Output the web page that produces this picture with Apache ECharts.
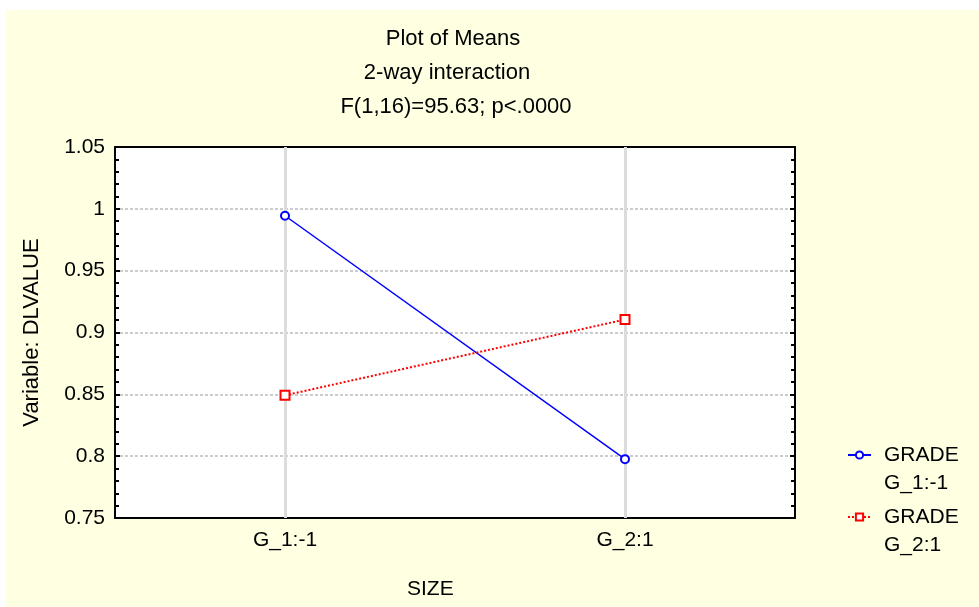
<!DOCTYPE html>
<html><head><meta charset="utf-8">
<script src="https://cdn.jsdelivr.net/npm/echarts@6/dist/echarts.min.js"></script>
<style>html,body{margin:0;padding:0;background:#fff}#c{width:979px;height:607px}</style>
</head><body><div id="c"></div>
<script>
const categories = ['G_1:-1', 'G_2:1'];
const seriesNames = ['GRADE\nG_1:-1', 'GRADE\nG_2:1'];
const grade1 = [0.9944, 0.7976];
const grade2 = [0.8492, 0.9105];
const titleLines = ['Plot of Means', '2-way interaction', 'F(1,16)=95.63; p<.0000'];
const yMin = 0.75, yMax = 1.05, yStep = 0.05;

const FONT = 'Liberation Sans, Arial, sans-serif';
const chart = echarts.init(document.getElementById('c'), null, {renderer: 'canvas'});
const fmt = v => String(parseFloat(v.toFixed(2)));
const legendText = {color: '#000', fontSize: 21, fontFamily: FONT, lineHeight: 28,
  rich: {t: {color: '#000', fontSize: 21, fontFamily: FONT, lineHeight: 28, padding: [0, 0, 0, 8]}}};
const titleCenters = [448, 442, 451];

chart.setOption({
  animation: false,
  backgroundColor: '#ffffff',
  title: titleLines.map((t, i) => ({
    text: t, left: titleCenters[i], top: 23 + i * 34, textAlign: 'center',
    textStyle: {color: '#000', fontSize: 22, fontWeight: 'normal', fontFamily: FONT}
  })),
  graphic: [
    {type: 'rect', z: -100, shape: {x: 6, y: 10, width: 973, height: 597}, style: {fill: '#FFFFE1'}, silent: true},
    {type: 'text', left: 407, top: 579, style: {text: 'SIZE', fill: '#000', font: '21px ' + FONT}}
  ],
  legend: seriesNames.map((n, i) => ({
    data: [n], orient: 'vertical', left: 847, top: 413 + i * 62,
    itemWidth: 23, itemHeight: 9, textStyle: legendText, padding: 0, itemGap: 0,
    formatter: name => '{t|}\n' + name.split('\n').map(s => '{t|' + s + '}').join('\n')
  })),
  grid: {left: 115, right: 184, top: 147, bottom: 89, show: true, backgroundColor: '#ffffff', borderWidth: 0},
  xAxis: [
    {type: 'category', data: categories, position: 'bottom',
     axisLine: {lineStyle: {color: '#000', width: 2}},
     axisTick: {show: true, inside: true, alignWithLabel: true, length: 5, lineStyle: {color: '#000', width: 2}},
     axisLabel: {color: '#000', fontSize: 21, fontFamily: FONT, margin: 12},
     splitLine: {show: false}},
    {type: 'category', data: categories, position: 'top',
     axisLine: {lineStyle: {color: '#000', width: 2}},
     axisTick: {show: true, inside: true, alignWithLabel: true, length: 5, lineStyle: {color: '#000', width: 2}},
     axisLabel: {show: false}, splitLine: {show: false}}
  ],
  yAxis: [
    {type: 'value', min: yMin, max: yMax, interval: yStep, position: 'left',
     name: 'Variable: DLVALUE', nameLocation: 'middle', nameGap: 72, nameMoveOverlap: false,
     nameTextStyle: {color: '#000', fontSize: 22, fontFamily: FONT},
     axisLine: {show: true, lineStyle: {color: '#000', width: 2}},
     axisTick: {show: true, inside: true, length: 5, lineStyle: {color: '#000', width: 2}},
     minorTick: {show: true, splitNumber: 5, length: 4, lineStyle: {color: '#000', width: 2}},
     axisLabel: {color: '#000', fontSize: 21, fontFamily: FONT, margin: 10, formatter: fmt},
     splitLine: {show: true, lineStyle: {color: '#cccccc', width: 2, type: [3, 2]}}},
    {type: 'value', min: yMin, max: yMax, interval: yStep, position: 'right',
     axisLine: {show: true, lineStyle: {color: '#000', width: 2}},
     axisTick: {show: true, inside: true, length: 5, lineStyle: {color: '#000', width: 2}},
     minorTick: {show: true, splitNumber: 5, length: 4, lineStyle: {color: '#000', width: 2}},
     axisLabel: {show: false}, splitLine: {show: false}}
  ],
  series: [
    {name: seriesNames[0], type: 'line', data: grade1, xAxisIndex: 0, yAxisIndex: 0,
     symbol: 'circle', symbolSize: 8, z: 5,
     lineStyle: {color: '#0000ff', width: 1.5},
     itemStyle: {color: '#ffffff', borderColor: '#0000ff', borderWidth: 2},
     markLine: {silent: true, symbol: 'none', label: {show: false}, z: 1,
       lineStyle: {color: '#dcdcdc', width: 3, type: 'solid'},
       data: categories.map(c => ({xAxis: c}))}},
    {name: seriesNames[1], type: 'line', data: grade2, xAxisIndex: 0, yAxisIndex: 0,
     symbol: 'rect', symbolSize: 9, z: 5,
     lineStyle: {color: '#ff0000', width: 2, type: [2, 2]},
     itemStyle: {color: '#ffffff', borderColor: '#ff0000', borderWidth: 2}}
  ]
});
</script></body></html>
